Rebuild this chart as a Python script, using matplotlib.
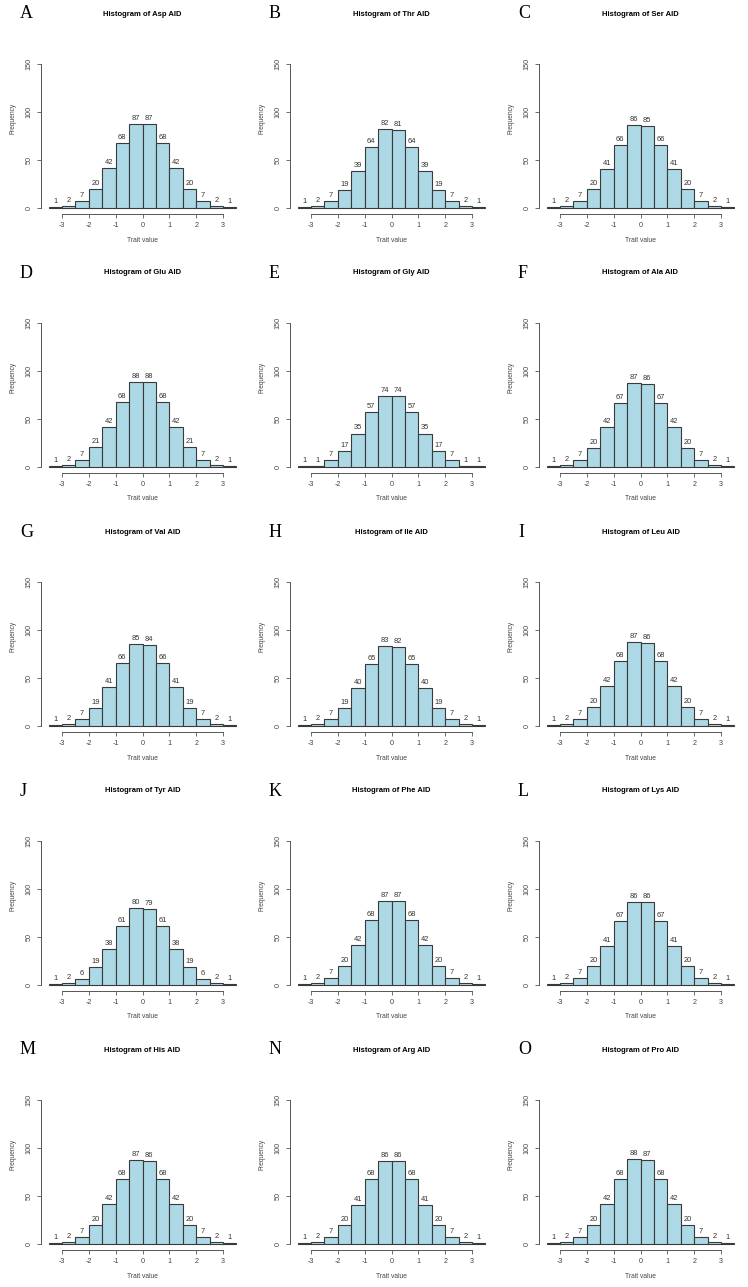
import matplotlib.pyplot as plt
import numpy as np

W, H = 748, 1287

letters = list("ABCDEFGHIJKLMNO")
traits = ["Asp", "Thr", "Ser", "Glu", "Gly", "Ala", "Val", "Ile", "Leu",
          "Tyr", "Phe", "Lys", "His", "Arg", "Pro"]
bin_edges = np.arange(-3.5, 3.51, 0.5)

# bar counts
asp = [1, 2, 7, 20, 42, 68, 87, 87, 68, 42, 20, 7, 2, 1]
thr = [1, 2, 7, 19, 39, 64, 82, 81, 64, 39, 19, 7, 2, 1]
ser = [1, 2, 7, 20, 41, 66, 86, 85, 66, 41, 20, 7, 2, 1]
glu = [1, 2, 7, 21, 42, 68, 88, 88, 68, 42, 21, 7, 2, 1]
gly = [1, 1, 7, 17, 35, 57, 74, 74, 57, 35, 17, 7, 1, 1]
ala = [1, 2, 7, 20, 42, 67, 87, 86, 67, 42, 20, 7, 2, 1]
val = [1, 2, 7, 19, 41, 66, 85, 84, 66, 41, 19, 7, 2, 1]
ile = [1, 2, 7, 19, 40, 65, 83, 82, 65, 40, 19, 7, 2, 1]
leu = [1, 2, 7, 20, 42, 68, 87, 86, 68, 42, 20, 7, 2, 1]
tyr = [1, 2, 6, 19, 38, 61, 80, 79, 61, 38, 19, 6, 2, 1]
phe = [1, 2, 7, 20, 42, 68, 87, 87, 68, 42, 20, 7, 2, 1]
lys = [1, 2, 7, 20, 41, 67, 86, 86, 67, 41, 20, 7, 2, 1]
his = [1, 2, 7, 20, 42, 68, 87, 86, 68, 42, 20, 7, 2, 1]
arg = [1, 2, 7, 20, 41, 68, 86, 86, 68, 41, 20, 7, 2, 1]
pro = [1, 2, 7, 20, 42, 68, 88, 87, 68, 42, 20, 7, 2, 1]
counts = [asp, thr, ser, glu, gly, ala, val, ile, leu, tyr, phe, lys, his, arg, pro]

plt.rcParams['font.family'] = ['Liberation Sans', 'DejaVu Sans']

fig = plt.figure(figsize=(W / 100, H / 100), dpi=100)
fig.patch.set_facecolor('white')

for i, (letter, trait, cnt) in enumerate(zip(letters, traits, counts)):
    r, c = divmod(i, 3)
    x0 = 1 + c * 249
    y0 = r * 259
    left, right, top, bottom = x0 + 40, x0 + 243, y0 + 58, y0 + 214
    ax = fig.add_axes([left / W, 1 - bottom / H, (right - left) / W, (bottom - top) / H])

    bars = ax.bar(bin_edges[:-1], cnt, width=0.5, align='edge',
                  color='lightblue', edgecolor='#3a3a3a', linewidth=0.8)
    ax.bar_label(bars, padding=1.5, fontsize=5.4, color='#333333')

    ax.set_xlim(-3.78, 3.78)
    ax.set_ylim(-6, 156)
    for s in ['top', 'right']:
        ax.spines[s].set_visible(False)
    ax.spines['left'].set_bounds(0, 150)
    ax.spines['bottom'].set_bounds(-3, 3)
    for s in ['left', 'bottom']:
        ax.spines[s].set_color('#555555')
        ax.spines[s].set_linewidth(0.7)

    ax.set_yticks([0, 50, 100, 150])
    ax.set_yticklabels(['0', '50', '100', '150'], rotation=90, va='center')
    ax.set_xticks(range(-3, 4))
    ax.set_xticklabels([str(v) for v in range(-3, 4)])
    ax.tick_params(length=3, width=0.6, color='#555555', labelsize=5.2,
                   labelcolor='#444444', pad=3)

    cx = (left + right) / 2
    fig.text(cx / W, 1 - (y0 + 14) / H, f"Histogram of {trait} AID",
             ha='center', va='center', fontsize=5.5, fontweight='bold')
    fig.text((x0 + 19) / W, 1 - (y0 + 14) / H, letter, ha='left', va='center',
             fontsize=13, family='Liberation Serif')
    fig.text((x0 + 12) / W, 1 - (y0 + 118) / H, "Frequency", rotation=90,
             ha='center', va='center', fontsize=4.8, color='#444444')
    fig.text(cx / W, 1 - (y0 + 240) / H, "Trait value",
             ha='center', va='center', fontsize=4.8, color='#444444')

fig.savefig('out.png', dpi=100)
